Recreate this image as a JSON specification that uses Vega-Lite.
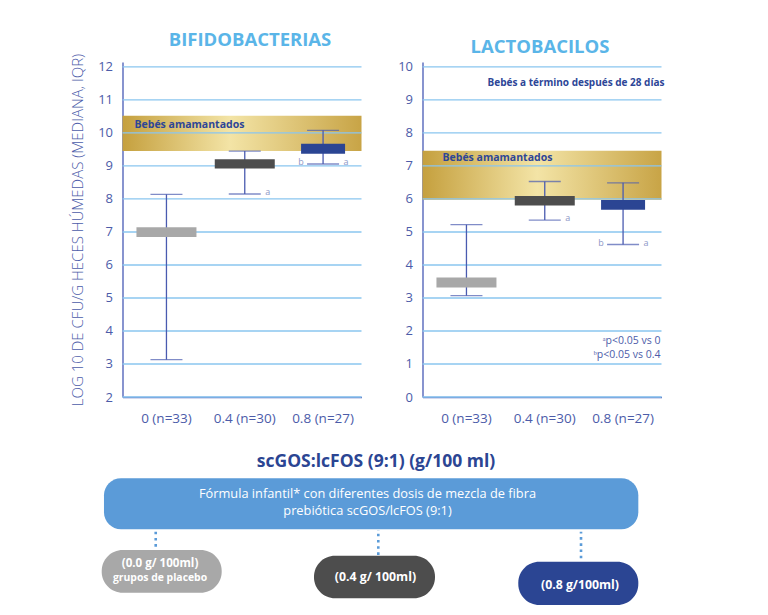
{
 "$schema": "https://vega.github.io/schema/vega-lite/v6.json",
 "background": "white",
 "padding": {"left": 70.5, "top": 30, "right": 5, "bottom": 5},
 "config": {
  "font": "Open Sans",
  "view": {"stroke": null},
  "axis": {"domainColor": "#5566bb", "domainWidth": 1.4, "ticks": false, "grid": false, "labelColor": "#4c5ca9", "labelFont": "Open Sans", "titleFont": "Open Sans", "labelOverlap": false},
  "axisY": {"labelFontSize": 13, "labelPadding": 10, "titleFontSize": 15, "titleFontWeight": 300, "titleColor": "#4c5ca9", "titlePadding": 12},
  "axisX": {"labelFontSize": 13.5, "labelPadding": 14, "labelAngle": 0},
  "title": {"fontSize": 18.5, "fontWeight": "bold", "color": "#5ab5e8", "frame": "group", "offset": 4, "font": "Open Sans"}
 },
 "datasets": {
  "bifido": [
   {"grupo": "0 (n=33)", "min": 3.13, "q1": 6.85, "q3": 7.14, "max": 8.14},
   {"grupo": "0.4 (n=30)", "min": 8.15, "q1": 8.92, "q3": 9.2, "max": 9.45},
   {"grupo": "0.8 (n=27)", "min": 9.06, "q1": 9.37, "q3": 9.67, "max": 10.08}
  ],
  "lacto": [
   {"grupo": "0 (n=33)", "min": 3.07, "q1": 3.32, "q3": 3.62, "max": 5.22},
   {"grupo": "0.4 (n=30)", "min": 5.36, "q1": 5.8, "q3": 6.09, "max": 6.53},
   {"grupo": "0.8 (n=27)", "min": 4.62, "q1": 5.67, "q3": 5.97, "max": 6.49}
  ],
  "banda_bifido": [{"lo": 9.45, "hi": 10.52, "label": "Bebés amamantados"}],
  "banda_lacto": [{"lo": 5.98, "hi": 7.46, "label": "Bebés amamantados"}],
  "rejilla_bifido": [{"v": 2}, {"v": 3}, {"v": 4}, {"v": 5}, {"v": 6}, {"v": 7}, {"v": 8}, {"v": 9}, {"v": 10}, {"v": 11}, {"v": 12}],
  "rejilla_lacto": [{"v": 0}, {"v": 1}, {"v": 2}, {"v": 3}, {"v": 4}, {"v": 5}, {"v": 6}, {"v": 7}, {"v": 8}, {"v": 9}, {"v": 10}],
  "letras_bifido": [{"grupo": "0.4 (n=30)", "letra": "a", "y": 8.15}, {"grupo": "0.8 (n=27)", "letra": "b", "y": 9.06}, {"grupo": "0.8 (n=27)", "letra": "a", "y": 9.06}],
  "letras_lacto": [{"grupo": "0.4 (n=30)", "letra": "a", "y": 5.36}, {"grupo": "0.8 (n=27)", "letra": "b", "y": 4.62}, {"grupo": "0.8 (n=27)", "letra": "a", "y": 4.62}],
  "notas_lacto": [{"t": "ᵃp<0.05 vs 0", "y": 1.69}, {"t": "ᵇp<0.05 vs 0.4", "y": 1.28}],
  "encabezado_lacto": [{"t": "Bebés a término después de 28 días", "y": 9.5}],
  "titulo": [{"x": 42.43, "y": 92.5, "t": "scGOS:lcFOS (9:1) (g/100 ml)"}],
  "caja": [{"x": -3.1, "x2": 86.33, "y": 50.44, "y2": 82.31}],
  "caja_texto": [{"x": 41.0, "y": 72.5, "t": "Fórmula infantil* con diferentes dosis de mezcla de fibra"}, {"x": 41.0, "y": 62.0, "t": "prebiótica scGOS/lcFOS (9:1)"}],
  "conectores": [{"x": 5.56, "y": 39.56, "y2": 48.94}, {"x": 42.81, "y": 34.4, "y2": 50}, {"x": 76.74, "y": 32.3, "y2": 48.9}],
  "dosis": [{"dosis": "0.0 g", "x": -3.48, "x2": 16.6, "y": 10.81, "y2": 37.5}, {"dosis": "0.4 g", "x": 32.05, "x2": 52.3, "y": 7.31, "y2": 33.94}, {"dosis": "0.8 g", "x": 66.24, "x2": 86.33, "y": 3.13, "y2": 30.19}],
  "dosis_texto": [{"x": 6.28, "y": 28.9, "t": "(0.0 g/ 100ml)", "tipo": "placebo"}, {"x": 6.28, "y": 19.8, "t": "grupos de placebo", "tipo": "grupo"}, {"x": 42.34, "y": 20.44, "t": "(0.4 g/ 100ml)", "tipo": "dosis"}, {"x": 76.57, "y": 15.6, "t": "(0.8 g/100ml)", "tipo": "dosis"}]
 },
 "columns": 2,
 "spacing": {"row": 53, "column": 61},
 "bounds": "flush",
 "concat": [
  {
   "width": 239, "height": 335,
   "title": {"text": "BIFIDOBACTERIAS", "dx": 8},
   "layer": [
    {"data": {"name": "banda_bifido"},
     "mark": {"type": "rect", "fill": {"gradient": "linear", "x1": 0, "y1": 0, "x2": 1, "y2": 0, "stops": [{"offset": 0, "color": "#c5a03e"}, {"offset": 0.45, "color": "#f3e4a6"}, {"offset": 1, "color": "#c8a446"}]}},
     "encoding": {"x": {"value": 0}, "x2": {"value": "width"},
      "y": {"field": "lo", "type": "quantitative", "scale": {"domain": [2, 12.15], "nice": false, "zero": false}, "axis": {"values": [2, 3, 4, 5, 6, 7, 8, 9, 10, 11, 12], "labelOverlap": false}, "title": "LOG 10 DE CFU/G HECES HÚMEDAS (MEDIANA, IQR)"},
      "y2": {"field": "hi"}}},
    {"data": {"name": "rejilla_bifido"},
     "mark": {"type": "rule", "color": "#8ac6ef", "strokeWidth": 1.3},
     "encoding": {"y": {"field": "v", "type": "quantitative", "axis": {"values": [2, 3, 4, 5, 6, 7, 8, 9, 10, 11, 12], "labelOverlap": false}, "title": "LOG 10 DE CFU/G HECES HÚMEDAS (MEDIANA, IQR)"}}},
    {"data": {"name": "bifido"},
     "mark": {"type": "rule", "color": "#4a5bb0", "strokeWidth": 1.3},
     "encoding": {"x": {"field": "grupo", "type": "nominal", "sort": null, "scale": {"domain": ["0 (n=33)", "0.4 (n=30)", "0.8 (n=27)"], "paddingInner": 0.2, "paddingOuter": 0.126, "align": 0.64}, "title": null},
      "y": {"field": "min", "type": "quantitative", "axis": {"values": [2, 3, 4, 5, 6, 7, 8, 9, 10, 11, 12], "labelOverlap": false}, "title": "LOG 10 DE CFU/G HECES HÚMEDAS (MEDIANA, IQR)"}, "y2": {"field": "max"}}},
    {"data": {"name": "bifido"},
     "mark": {"type": "tick", "orient": "horizontal", "size": 32, "thickness": 1.3, "color": "#4a5bb0"},
     "encoding": {"x": {"field": "grupo", "type": "nominal", "sort": null, "title": null},
      "y": {"field": "min", "type": "quantitative", "axis": {"values": [2, 3, 4, 5, 6, 7, 8, 9, 10, 11, 12], "labelOverlap": false}, "title": "LOG 10 DE CFU/G HECES HÚMEDAS (MEDIANA, IQR)"}}},
    {"data": {"name": "bifido"},
     "mark": {"type": "tick", "orient": "horizontal", "size": 32, "thickness": 1.3, "color": "#4a5bb0"},
     "encoding": {"x": {"field": "grupo", "type": "nominal", "sort": null, "title": null},
      "y": {"field": "max", "type": "quantitative", "axis": {"values": [2, 3, 4, 5, 6, 7, 8, 9, 10, 11, 12], "labelOverlap": false}, "title": "LOG 10 DE CFU/G HECES HÚMEDAS (MEDIANA, IQR)"}}},
    {"data": {"name": "bifido"},
     "transform": [{"filter": "datum.grupo != '0.8 (n=27)'"}],
     "mark": {"type": "bar", "width": 60},
     "encoding": {"x": {"field": "grupo", "type": "nominal", "sort": null, "title": null},
      "y": {"field": "q1", "type": "quantitative", "axis": {"values": [2, 3, 4, 5, 6, 7, 8, 9, 10, 11, 12], "labelOverlap": false}, "title": "LOG 10 DE CFU/G HECES HÚMEDAS (MEDIANA, IQR)"}, "y2": {"field": "q3"},
      "color": {"field": "grupo", "type": "nominal", "scale": {"domain": ["0 (n=33)", "0.4 (n=30)", "0.8 (n=27)"], "range": ["#a8a8a8", "#4d4d4d", "#2b4593"]}, "legend": null}}},
    {"data": {"name": "bifido"},
     "transform": [{"filter": "datum.grupo == '0.8 (n=27)'"}],
     "mark": {"type": "bar", "width": 44},
     "encoding": {"x": {"field": "grupo", "type": "nominal", "sort": null, "title": null},
      "y": {"field": "q1", "type": "quantitative", "axis": {"values": [2, 3, 4, 5, 6, 7, 8, 9, 10, 11, 12], "labelOverlap": false}, "title": "LOG 10 DE CFU/G HECES HÚMEDAS (MEDIANA, IQR)"}, "y2": {"field": "q3"},
      "color": {"field": "grupo", "type": "nominal", "legend": null}}},
    {"data": {"name": "banda_bifido"},
     "mark": {"type": "text", "align": "left", "baseline": "middle", "dx": 12, "dy": 9, "fontSize": 10.5, "fontWeight": "bold", "color": "#2d4697"},
     "encoding": {"x": {"value": 0}, "y": {"field": "hi", "type": "quantitative", "axis": {"values": [2, 3, 4, 5, 6, 7, 8, 9, 10, 11, 12], "labelOverlap": false}, "title": "LOG 10 DE CFU/G HECES HÚMEDAS (MEDIANA, IQR)"}, "text": {"field": "label"}}},
    {"data": {"name": "letras_bifido"},
     "transform": [{"filter": "datum.letra == 'a'"}],
     "mark": {"type": "text", "baseline": "middle", "dx": 23, "dy": -2, "fontSize": 9, "color": "#8d97c6"},
     "encoding": {"x": {"field": "grupo", "type": "nominal", "sort": null, "title": null}, "y": {"field": "y", "type": "quantitative", "axis": {"values": [2, 3, 4, 5, 6, 7, 8, 9, 10, 11, 12], "labelOverlap": false}, "title": "LOG 10 DE CFU/G HECES HÚMEDAS (MEDIANA, IQR)"}, "text": {"field": "letra"}}},
    {"data": {"name": "letras_bifido"},
     "transform": [{"filter": "datum.letra == 'b'"}],
     "mark": {"type": "text", "baseline": "middle", "dx": -22, "dy": -2, "fontSize": 9, "color": "#8d97c6"},
     "encoding": {"x": {"field": "grupo", "type": "nominal", "sort": null, "title": null}, "y": {"field": "y", "type": "quantitative", "axis": {"values": [2, 3, 4, 5, 6, 7, 8, 9, 10, 11, 12], "labelOverlap": false}, "title": "LOG 10 DE CFU/G HECES HÚMEDAS (MEDIANA, IQR)"}, "text": {"field": "letra"}}}
   ]
  },
  {
   "width": 239, "height": 335,
   "title": {"text": "LACTOBACILOS", "dx": -2},
   "layer": [
    {"data": {"name": "banda_lacto"},
     "mark": {"type": "rect", "fill": {"gradient": "linear", "x1": 0, "y1": 0, "x2": 1, "y2": 0, "stops": [{"offset": 0, "color": "#c5a03e"}, {"offset": 0.48, "color": "#f3e4a6"}, {"offset": 1, "color": "#c8a446"}]}},
     "encoding": {"x": {"value": 0}, "x2": {"value": "width"},
      "y": {"field": "lo", "type": "quantitative", "scale": {"domain": [0, 10.15], "nice": false, "zero": false}, "axis": {"values": [0, 1, 2, 3, 4, 5, 6, 7, 8, 9, 10], "labelOverlap": false}, "title": null},
      "y2": {"field": "hi"}}},
    {"data": {"name": "rejilla_lacto"},
     "mark": {"type": "rule", "color": "#8ac6ef", "strokeWidth": 1.3},
     "encoding": {"y": {"field": "v", "type": "quantitative", "axis": {"values": [0, 1, 2, 3, 4, 5, 6, 7, 8, 9, 10], "labelOverlap": false}, "title": null}}},
    {"data": {"name": "lacto"},
     "mark": {"type": "rule", "color": "#4a5bb0", "strokeWidth": 1.3},
     "encoding": {"x": {"field": "grupo", "type": "nominal", "sort": null, "scale": {"domain": ["0 (n=33)", "0.4 (n=30)", "0.8 (n=27)"], "paddingInner": 0.2, "paddingOuter": 0.126, "align": 0.64}, "title": null},
      "y": {"field": "min", "type": "quantitative", "axis": {"values": [0, 1, 2, 3, 4, 5, 6, 7, 8, 9, 10], "labelOverlap": false}, "title": null}, "y2": {"field": "max"}}},
    {"data": {"name": "lacto"},
     "mark": {"type": "tick", "orient": "horizontal", "size": 32, "thickness": 1.3, "color": "#4a5bb0"},
     "encoding": {"x": {"field": "grupo", "type": "nominal", "sort": null, "title": null},
      "y": {"field": "min", "type": "quantitative", "axis": {"values": [0, 1, 2, 3, 4, 5, 6, 7, 8, 9, 10], "labelOverlap": false}, "title": null}}},
    {"data": {"name": "lacto"},
     "mark": {"type": "tick", "orient": "horizontal", "size": 32, "thickness": 1.3, "color": "#4a5bb0"},
     "encoding": {"x": {"field": "grupo", "type": "nominal", "sort": null, "title": null},
      "y": {"field": "max", "type": "quantitative", "axis": {"values": [0, 1, 2, 3, 4, 5, 6, 7, 8, 9, 10], "labelOverlap": false}, "title": null}}},
    {"data": {"name": "lacto"},
     "transform": [{"filter": "datum.grupo != '0.8 (n=27)'"}],
     "mark": {"type": "bar", "width": 60},
     "encoding": {"x": {"field": "grupo", "type": "nominal", "sort": null, "title": null},
      "y": {"field": "q1", "type": "quantitative", "axis": {"values": [0, 1, 2, 3, 4, 5, 6, 7, 8, 9, 10], "labelOverlap": false}, "title": null}, "y2": {"field": "q3"},
      "color": {"field": "grupo", "type": "nominal", "scale": {"domain": ["0 (n=33)", "0.4 (n=30)", "0.8 (n=27)"], "range": ["#a8a8a8", "#4d4d4d", "#2b4593"]}, "legend": null}}},
    {"data": {"name": "lacto"},
     "transform": [{"filter": "datum.grupo == '0.8 (n=27)'"}],
     "mark": {"type": "bar", "width": 44},
     "encoding": {"x": {"field": "grupo", "type": "nominal", "sort": null, "title": null},
      "y": {"field": "q1", "type": "quantitative", "axis": {"values": [0, 1, 2, 3, 4, 5, 6, 7, 8, 9, 10], "labelOverlap": false}, "title": null}, "y2": {"field": "q3"},
      "color": {"field": "grupo", "type": "nominal", "legend": null}}},
    {"data": {"name": "banda_lacto"},
     "mark": {"type": "text", "align": "left", "baseline": "middle", "dx": 20, "dy": 7.5, "fontSize": 10.5, "fontWeight": "bold", "color": "#2d4697"},
     "encoding": {"x": {"value": 0}, "y": {"field": "hi", "type": "quantitative", "axis": {"values": [0, 1, 2, 3, 4, 5, 6, 7, 8, 9, 10], "labelOverlap": false}, "title": null}, "text": {"field": "label"}}},
    {"data": {"name": "encabezado_lacto"},
     "mark": {"type": "text", "align": "right", "baseline": "middle", "dx": 3, "fontSize": 10, "fontWeight": "bold", "color": "#2d4697"},
     "encoding": {"x": {"value": "width"}, "y": {"field": "y", "type": "quantitative", "axis": {"values": [0, 1, 2, 3, 4, 5, 6, 7, 8, 9, 10], "labelOverlap": false}, "title": null}, "text": {"field": "t"}}},
    {"data": {"name": "notas_lacto"},
     "mark": {"type": "text", "align": "right", "baseline": "middle", "dx": -1, "fontSize": 10.5, "color": "#4c5ca9"},
     "encoding": {"x": {"value": "width"}, "y": {"field": "y", "type": "quantitative", "axis": {"values": [0, 1, 2, 3, 4, 5, 6, 7, 8, 9, 10], "labelOverlap": false}, "title": null}, "text": {"field": "t"}}},
    {"data": {"name": "letras_lacto"},
     "transform": [{"filter": "datum.letra == 'a'"}],
     "mark": {"type": "text", "baseline": "middle", "dx": 23, "dy": -2, "fontSize": 9, "color": "#8d97c6"},
     "encoding": {"x": {"field": "grupo", "type": "nominal", "sort": null, "title": null}, "y": {"field": "y", "type": "quantitative", "axis": {"values": [0, 1, 2, 3, 4, 5, 6, 7, 8, 9, 10], "labelOverlap": false}, "title": null}, "text": {"field": "letra"}}},
    {"data": {"name": "letras_lacto"},
     "transform": [{"filter": "datum.letra == 'b'"}],
     "mark": {"type": "text", "baseline": "middle", "dx": -22, "dy": -2, "fontSize": 9, "color": "#8d97c6"},
     "encoding": {"x": {"field": "grupo", "type": "nominal", "sort": null, "title": null}, "y": {"field": "y", "type": "quantitative", "axis": {"values": [0, 1, 2, 3, 4, 5, 6, 7, 8, 9, 10], "labelOverlap": false}, "title": null}, "text": {"field": "letra"}}}
   ]
  },
  {
   "width": 239, "height": 160,
   "layer": [
    {"data": {"name": "caja"},
     "mark": {"type": "rect", "cornerRadius": 17, "fill": "#5b9bd8"},
     "encoding": {"x": {"field": "x", "type": "quantitative", "scale": {"domain": [0, 40], "nice": false, "zero": false}, "axis": null}, "x2": {"field": "x2"},
      "y": {"field": "y", "type": "quantitative", "scale": {"domain": [0, 100], "nice": false, "zero": false}, "axis": null}, "y2": {"field": "y2"}}},
    {"data": {"name": "conectores"},
     "mark": {"type": "rule", "color": "#5b9bd8", "strokeWidth": 2.6, "strokeDash": [2.6, 3.6]},
     "encoding": {"x": {"field": "x", "type": "quantitative", "axis": null}, "y": {"field": "y", "type": "quantitative", "axis": null}, "y2": {"field": "y2"}}},
    {"data": {"name": "dosis"},
     "mark": {"type": "rect", "cornerRadius": 21},
     "encoding": {"x": {"field": "x", "type": "quantitative", "axis": null}, "x2": {"field": "x2"},
      "y": {"field": "y", "type": "quantitative", "axis": null}, "y2": {"field": "y2"},
      "color": {"field": "dosis", "type": "nominal", "scale": {"domain": ["0.0 g", "0.4 g", "0.8 g"], "range": ["#9d9d9d", "#555555", "#2a4193"]}, "legend": null}}},
    {"data": {"name": "titulo"},
     "mark": {"type": "text", "align": "center", "baseline": "middle", "fontSize": 17.5, "fontWeight": "bold", "color": "#2b4593"},
     "encoding": {"x": {"field": "x", "type": "quantitative", "axis": null}, "y": {"field": "y", "type": "quantitative", "axis": null}, "text": {"field": "t"}}},
    {"data": {"name": "caja_texto"},
     "mark": {"type": "text", "align": "center", "baseline": "middle", "fontSize": 12.8, "color": "white"},
     "encoding": {"x": {"field": "x", "type": "quantitative", "axis": null}, "y": {"field": "y", "type": "quantitative", "axis": null}, "text": {"field": "t"}}},
    {"data": {"name": "dosis_texto"},
     "transform": [{"filter": "datum.tipo == 'dosis'"}],
     "mark": {"type": "text", "align": "center", "baseline": "middle", "fontSize": 12.3, "fontWeight": "bold", "color": "white"},
     "encoding": {"x": {"field": "x", "type": "quantitative", "axis": null}, "y": {"field": "y", "type": "quantitative", "axis": null}, "text": {"field": "t"}}},
    {"data": {"name": "dosis_texto"},
     "transform": [{"filter": "datum.tipo == 'placebo'"}],
     "mark": {"type": "text", "align": "center", "baseline": "middle", "fontSize": 11.6, "fontWeight": "bold", "color": "white"},
     "encoding": {"x": {"field": "x", "type": "quantitative", "axis": null}, "y": {"field": "y", "type": "quantitative", "axis": null}, "text": {"field": "t"}}},
    {"data": {"name": "dosis_texto"},
     "transform": [{"filter": "datum.tipo == 'grupo'"}],
     "mark": {"type": "text", "align": "center", "baseline": "middle", "fontSize": 10.4, "fontWeight": "bold", "color": "white"},
     "encoding": {"x": {"field": "x", "type": "quantitative", "axis": null}, "y": {"field": "y", "type": "quantitative", "axis": null}, "text": {"field": "t"}}}
   ]
  }
 ]
}
